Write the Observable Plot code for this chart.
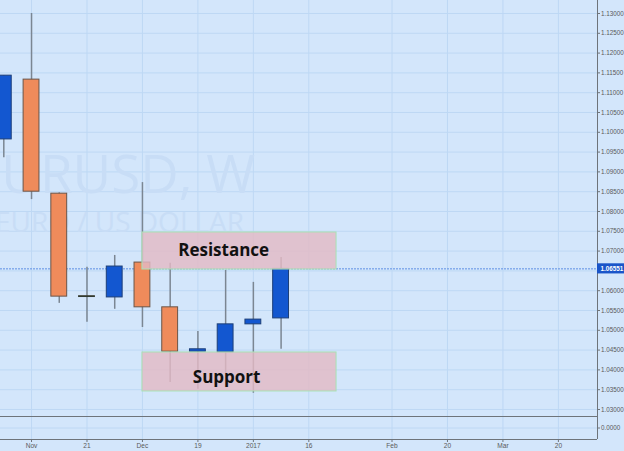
<!DOCTYPE html>
<html>
<head>
<meta charset="utf-8">
<script src="https://cdn.jsdelivr.net/npm/d3@7"></script>
<script src="https://cdn.jsdelivr.net/npm/@observablehq/plot@0.6"></script>
<style>
  html, body { margin: 0; padding: 0; background: #d3e6fb; }
  #chart { position: relative; width: 624px; height: 451px; background: #d3e6fb; overflow: hidden; }
  #chart svg { display: block; }
</style>
</head>
<body>
<div id="chart"></div>
<script>
// ---- data ----
const weeks  = ["2016-10-31","2016-11-07","2016-11-14","2016-11-21","2016-11-28","2016-12-05","2016-12-12","2016-12-19","2016-12-26","2017-01-02","2017-01-09"];
const opens  = [1.0982, 1.1133, 1.0845, 1.0586, 1.0583, 1.0671, 1.0558, 1.0446, 1.0444, 1.0515, 1.0530];
const highs  = [1.1143, 1.1300, 1.0847, 1.0659, 1.0689, 1.0873, 1.0669, 1.0497, 1.0651, 1.0621, 1.0684];
const lows   = [1.0936, 1.0830, 1.0568, 1.0520, 1.0553, 1.0507, 1.0368, 1.0351, 1.0355, 1.0341, 1.0452];
const closes = [1.1143, 1.0850, 1.0585, 1.0584, 1.0661, 1.0558, 1.0446, 1.0452, 1.0515, 1.0527, 1.0655];

const lastPrice = 1.06551;

const zoneNames  = ["Resistance", "Support"];
const zoneStart  = ["2016-12-05", "2016-12-05"];
const zoneEnd    = ["2017-01-23", "2017-01-23"];
const zoneTop    = [1.0747, 1.0444];
const zoneBottom = [1.06535, 1.03455];
const zoneLabelDate  = ["2016-12-25T12:00Z", "2016-12-26T06:00Z"];
const zoneLabelPrice = [1.07015, 1.03808];

const priceGrid  = [1.03,1.035,1.04,1.045,1.05,1.055,1.06,1.065,1.07,1.075,1.08,1.085,1.09,1.095,1.10,1.105,1.11,1.115,1.12,1.125,1.13];
const priceTicks = [1.03,1.035,1.04,1.045,1.05,1.055,1.06,1.07,1.075,1.08,1.085,1.09,1.095,1.10,1.105,1.11,1.115,1.12,1.125,1.13];
const xTickDates  = ["2016-11-07","2016-11-21","2016-12-05","2016-12-19","2017-01-02","2017-01-16","2017-02-06","2017-02-20","2017-03-06","2017-03-20"];
const xTickLabels = ["Nov","21","Dec","19","2017","16","Feb","20","Mar","20"];

const symbolName = "EURUSD, W";
const symbolDesc = "EURO / US DOLLAR";

const xDomain = [new Date("2016-10-30T04:00Z"), new Date("2017-03-29T21:00Z")];
const yDomain = [1.02823, 1.13328];

// ---- tables ----
const candles = weeks.map((w, i) => ({
  date: new Date(w + "T00:00Z"), open: opens[i], high: highs[i], low: lows[i], close: closes[i],
  up: closes[i] >= opens[i], doji: Math.abs(closes[i] - opens[i]) < 0.0003
}));
const zones = zoneNames.map((n, i) => ({
  name: n, x1: new Date(zoneStart[i] + "T00:00Z"), x2: new Date(zoneEnd[i] + "T00:00Z"),
  top: zoneTop[i], bottom: zoneBottom[i],
  lx: new Date(zoneLabelDate[i]), ly: zoneLabelPrice[i]
}));
const tickDates = xTickDates.map(d => new Date(d + "T00:00Z"));
const tickLabelOf = new Map(tickDates.map((d, i) => [+d, xTickLabels[i]]));

const GRID = "#bed8f4", AXIS = "#6e747a", TXT = "#5a5a5a", WM = "#c8ddf6";
const UP = "#1357d0", DOWN = "#ef8b5b";

// ---- main price panel ----
const main = Plot.plot({
  width: 624, height: 416,
  marginTop: 0, marginBottom: 0, marginLeft: 0, marginRight: 27,
  style: { background: "transparent", fontFamily: "Liberation Sans, Arial, sans-serif" },
  x: { type: "utc", domain: xDomain, axis: null },
  y: { domain: yDomain, axis: null },
  marks: [
    Plot.gridY(priceGrid, { stroke: GRID, strokeOpacity: 1 }),
    Plot.gridX(tickDates, { stroke: GRID, strokeOpacity: 1 }),
    Plot.text([symbolName], { frameAnchor: "top-left", dx: 113, dy: 192, textAnchor: "middle", lineAnchor: "bottom",
      fontSize: 53, fill: WM, fontFamily: "Open Sans" }),
    Plot.text([symbolDesc], { frameAnchor: "top-left", dx: 119, dy: 231, textAnchor: "middle", lineAnchor: "bottom",
      fontSize: 28, fill: WM, fontFamily: "Open Sans" }),
    Plot.ruleY([lastPrice], { stroke: "#5d8fe3", strokeWidth: 1, strokeDasharray: "2,1" }),
    Plot.ruleX(candles, { x: "date", y1: "low", y2: "high", stroke: "#7b8692", strokeWidth: 1.5 }),
    Plot.rect(candles, {
      x1: d => d3.utcDay.offset(d.date, -2), x2: d => d3.utcDay.offset(d.date, 2),
      y1: "open", y2: "close",
      fill: d => d.up ? UP : DOWN,
      stroke: d => d.doji ? "#2f3a30" : d.up ? "#1d3f78" : "#6b5548", strokeWidth: 1
    }),
    Plot.rect(zones, { x1: "x1", x2: "x2", y1: "bottom", y2: "top", fill: "#e3bac4", fillOpacity: 0.82,
      stroke: "#a8e2b4", strokeWidth: 1 }),
    Plot.text(zones, { x: "lx", y: "ly", text: "name", fontSize: 17, fontWeight: "bold", fill: "#111",
      fontFamily: "Open Sans" }),
    Plot.axisY({ anchor: "right", ticks: priceTicks, tickFormat: d3.format(".5f"), tickSize: 2, tickPadding: 1.5,
      fontSize: 6.3, color: TXT, stroke: AXIS }),
    Plot.ruleX([xDomain[1]], { stroke: AXIS, strokeWidth: 1 }),
    Plot.rect([lastPrice], { x1: () => xDomain[1], x2: () => d3.utcDay.offset(xDomain[1], 8),
      y1: d => d - 0.00128, y2: d => d + 0.00128, fill: "#1a55c9" }),
    Plot.text([lastPrice], { x: () => xDomain[1], y: d => d, text: d => d3.format(".5f")(d), dx: 3,
      textAnchor: "start", fill: "white", fontSize: 6.3, fontWeight: "bold" })
  ]
});

// ---- lower indicator panel with time axis ----
const lower = Plot.plot({
  width: 624, height: 35,
  marginTop: 0, marginBottom: 12, marginLeft: 0, marginRight: 27,
  style: { background: "transparent", fontFamily: "Liberation Sans, Arial, sans-serif" },
  x: { type: "utc", domain: xDomain, axis: null },
  y: { domain: [-1, 1], axis: null },
  marks: [
    Plot.gridY([0], { stroke: GRID, strokeOpacity: 1 }),
    Plot.gridX(tickDates, { stroke: GRID, strokeOpacity: 1 }),
    Plot.ruleY([1], { stroke: AXIS }),
    Plot.ruleY([-1], { stroke: AXIS }),
    Plot.ruleX([xDomain[1]], { stroke: AXIS }),
    Plot.axisY({ anchor: "right", ticks: [0], tickFormat: d3.format(".4f"), tickSize: 2, tickPadding: 1.5,
      fontSize: 6.3, color: TXT, stroke: AXIS }),
    Plot.axisX({ anchor: "bottom", ticks: tickDates, tickFormat: d => tickLabelOf.get(+d), tickSize: 3, tickPadding: 1,
      fontSize: 6.6, color: TXT, stroke: AXIS,
      fontWeight: d => tickLabelOf.get(+d) === "2017" ? "bold" : "normal" })
  ]
});

const chart = document.getElementById("chart");
chart.appendChild(main);
chart.appendChild(lower);
</script>
</body>
</html>
